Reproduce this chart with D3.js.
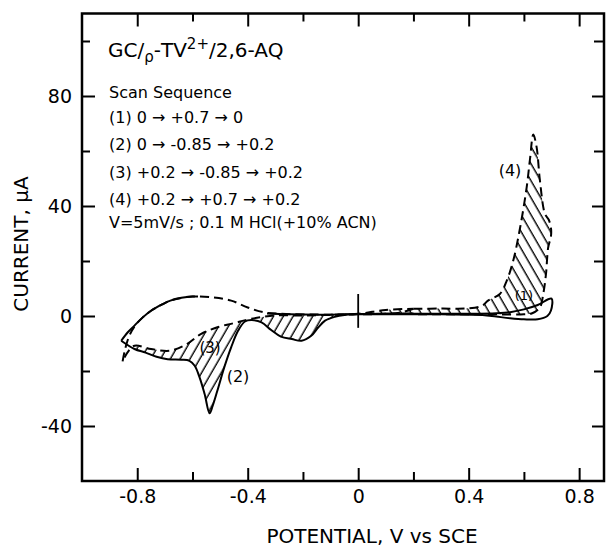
<!DOCTYPE html>
<html>
<head>
<meta charset="utf-8">
<script src="https://cdn.jsdelivr.net/npm/d3@7"></script>
<style>
body { margin: 0; background: #fff; }
text { font-family: "DejaVu Sans", sans-serif; fill: #000; }
</style>
</head>
<body>
<div id="container"></div>
<script>
// define constants
const WIDTH = 607;
const HEIGHT = 549;

// tick values
const X_MAJOR = [-0.8, -0.4, 0, 0.4, 0.8];
const X_MINOR = [-0.6, -0.2, 0.2, 0.6];
const Y_MAJOR = [-40, 0, 40, 80];
const Y_MINOR = [-20, 20, 60, 100];

// [potential V, current uA]
// scan (2) cathodic half, solid: 0 -> -0.85
const scan2Cathodic = [
    [0, 0.7], [-0.05, 0.4], [-0.085, -0.3], [-0.12, -1.7], [-0.145, -4.2], [-0.17, -7.2],
    [-0.205, -9.0], [-0.24, -8.4], [-0.28, -7.5], [-0.315, -5.1], [-0.35, -2.3], [-0.385, -1.5],
    [-0.41, -2.0], [-0.435, -5.4], [-0.46, -11.4], [-0.485, -18.7], [-0.51, -27.2], [-0.527, -32.7],
    [-0.538, -35.4], [-0.556, -28.4], [-0.574, -22.4], [-0.592, -18.1], [-0.611, -16.3],
    [-0.64, -15.9], [-0.69, -15.7], [-0.73, -14.8], [-0.77, -13.3], [-0.81, -12.0], [-0.858, -9.0]
];
// scan (2) anodic half, solid: -0.85 -> +0.2 (null = hidden behind scan 3)
const scan2Anodic = [
    [-0.858, -9.0], [-0.835, -6.0], [-0.81, -3.5], [-0.78, -0.5], [-0.75, 1.9], [-0.71, 4.2],
    [-0.68, 5.6], [-0.64, 6.6], [-0.6, 7.1], [-0.58, 7.1], [-0.45, null],
    [-0.33, 0.9], [-0.25, 0.6], [-0.1, 0.5], [0, 0.7], [0.1, 0.8], [0.2, 0.9]
];
// scan (3) cathodic half, dashed: +0.2 -> -0.85
const scan3Cathodic = [
    [0.2, 2.6], [0.15, 1.2], [0.1, 0.8], [0, 0.6], [-0.1, 0.4], [-0.2, 0.2], [-0.3, 0.2],
    [-0.35, -0.4], [-0.4, -1.3], [-0.45, -2.6], [-0.51, -4.1], [-0.57, -6.6], [-0.62, -10.2],
    [-0.68, -12.6], [-0.75, -12.0], [-0.81, -10.8], [-0.835, -13.2], [-0.853, -16.5]
];
// scan (3) anodic half, dashed: -0.85 -> +0.2
const scan3Anodic = [
    [-0.853, -16.5], [-0.845, -12.5], [-0.83, -7.5], [-0.81, -3.8], [-0.78, -0.5], [-0.75, 1.9],
    [-0.71, 4.2], [-0.68, 5.6], [-0.64, 6.6], [-0.6, 7.1], [-0.53, 6.8], [-0.46, 5.6],
    [-0.4, 3.1], [-0.34, 1.3], [-0.28, 0.8], [-0.1, 0.5], [0, 0.8], [0.1, 2.2], [0.2, 2.6]
];
// scan (1), solid: 0 -> +0.7 -> 0
const scan1 = [
    [0, 0.7], [0.1, 0.8], [0.2, 0.8], [0.3, 0.8], [0.4, 0.8], [0.5, 1.0], [0.55, 1.4],
    [0.6, 2.4], [0.65, 4.0], [0.7, 6.3], [0.698, 2.0], [0.685, 0.0], [0.65, -1.2], [0.6, -1.2],
    [0.55, -0.8], [0.5, -0.2], [0.45, 0.4], [0.3, 0.6], [0.1, 0.6], [0, 0.6]
];
// scan (4), dashed: +0.2 -> +0.7 -> +0.2
const scan4 = [
    [0.2, 2.6], [0.3, 2.7], [0.4, 2.8], [0.45, 3.8], [0.47, 5.6], [0.513, 8.0], [0.538, 12.9],
    [0.561, 20.0], [0.586, 32.0], [0.61, 46.8], [0.622, 57.0], [0.634, 66.0], [0.646, 61.4],
    [0.658, 49.3], [0.676, 37.2], [0.69, 35.0], [0.698, 32.0], [0.698, 29.0], [0.688, 25.0],
    [0.68, 15.3], [0.67, 8.0], [0.658, 3.1], [0.63, 1.0], [0.6, 0.6], [0.5, 0.6], [0.4, 0.6],
    [0.3, 0.6], [0.2, 0.6]
];
// short vertical marker at 0 V (current range)
const zeroMarker = [-4.3, 8];

const scanSequence = [
    "(1) 0 \u2192 +0.7 \u2192 0",
    "(2) 0 \u2192 -0.85 \u2192 +0.2",
    "(3) +0.2 \u2192 -0.85 \u2192 +0.2",
    "(4) +0.2 \u2192 +0.7 \u2192 +0.2"
];

// create svg element
const canvas = d3.select("#container")
    .append("svg")
    .attr("width", WIDTH)
    .attr("height", HEIGHT);

const xScale = d3.scaleLinear()
    .domain([-1.0, 0.89])
    .range([82, 604]);

const yScale = d3.scaleLinear()
    .domain([-60, 110])
    .range([481, 13.5]);

// hatch patterns
const defs = canvas.append("defs");
const hatch = (id, angle) => {
    const p = defs.append("pattern")
        .attr("id", id)
        .attr("width", 8.5)
        .attr("height", 8.5)
        .attr("patternUnits", "userSpaceOnUse")
        .attr("patternTransform", "rotate(" + angle + ")");
    p.append("line")
        .attr("x1", 4).attr("y1", 0)
        .attr("x2", 4).attr("y2", 8.5)
        .attr("stroke", "#000")
        .attr("stroke-width", 1.4);
};
hatch("hatchL", 30);
hatch("hatchR", -30);

const line = d3.line()
    .defined((d) => d[1] != null)
    .x((d) => xScale(d[0]))
    .y((d) => yScale(d[1]))
    .curve(d3.curveCatmullRom.alpha(0.5));

// hatched difference between scan 3 and scan 2 (cathodic)
const inRange = (d) => d[0] >= -0.81 && d[0] <= 0;
const upperL = scan3Cathodic.filter(inRange);
const lowerL = scan2Cathodic.filter(inRange).reverse();
canvas.append("path")
    .attr("d", line(upperL) + line(lowerL).replace(/^M/, "L") + "Z")
    .attr("fill", "url(#hatchL)")
    .attr("stroke", "none");

// hatched loop of scan 4
const loop4 = scan3Anodic.filter((d) => d[0] >= 0 && d[0] < 0.2).concat(scan4);
canvas.append("path")
    .attr("d", line(loop4) + "Z")
    .attr("fill", "url(#hatchR)")
    .attr("stroke", "none");

// curves
const drawCurve = (data, dashed) => {
    canvas.append("path")
        .attr("d", line(data))
        .attr("fill", "none")
        .attr("stroke", "#000")
        .attr("stroke-width", 2)
        .attr("stroke-dasharray", dashed ? "9,5" : null);
};
drawCurve(scan3Cathodic, true);
drawCurve(scan3Anodic, true);
drawCurve(scan4, true);
drawCurve(scan2Cathodic, false);
drawCurve(scan2Anodic, false);
drawCurve(scan1, false);

canvas.append("line")
    .attr("x1", xScale(0)).attr("x2", xScale(0))
    .attr("y1", yScale(zeroMarker[0])).attr("y2", yScale(zeroMarker[1]))
    .attr("stroke", "#000")
    .attr("stroke-width", 1.8);

// axes, ticks pointing inward
const fmtX = (d) => d === 0 ? "0" : d.toFixed(1);
const fmtY = (d) => String(d);
const addAxis = (axis, tx, ty) => {
    const g = canvas.append("g")
        .attr("transform", "translate(" + tx + "," + ty + ")")
        .call(axis);
    g.select(".domain").remove();
    g.selectAll(".tick line").attr("stroke-width", 2);
    g.selectAll("text")
        .style("font-family", "DejaVu Sans")
        .style("font-size", "19px")
        .attr("fill", "#000");
    return g;
};

addAxis(d3.axisBottom(xScale).tickValues(X_MAJOR).tickSize(-13).tickPadding(9).tickFormat(fmtX), 0, 481);
addAxis(d3.axisBottom(xScale).tickValues(X_MINOR).tickSize(-9).tickFormat(""), 0, 481);
addAxis(d3.axisTop(xScale).tickValues(X_MAJOR).tickSize(-13).tickFormat(""), 0, 13.5);
addAxis(d3.axisTop(xScale).tickValues(X_MINOR).tickSize(-8).tickFormat(""), 0, 13.5);
addAxis(d3.axisLeft(yScale).tickValues(Y_MAJOR).tickSize(-13).tickPadding(10).tickFormat(fmtY), 82, 0);
addAxis(d3.axisLeft(yScale).tickValues(Y_MINOR).tickSize(-8).tickFormat(""), 82, 0);
addAxis(d3.axisRight(yScale).tickValues(Y_MAJOR).tickSize(-12).tickFormat(""), 604, 0);
addAxis(d3.axisRight(yScale).tickValues(Y_MINOR).tickSize(-10).tickFormat(""), 604, 0);

// frame
canvas.append("rect")
    .attr("x", 82).attr("y", 13.5)
    .attr("width", 604 - 82).attr("height", 481 - 13.5)
    .attr("fill", "none")
    .attr("stroke", "#000")
    .attr("stroke-width", 2.5);

// label x axis
canvas.append("text")
    .attr("x", 372)
    .attr("y", 543)
    .attr("text-anchor", "middle")
    .style("font-size", "20px")
    .text("POTENTIAL, V vs SCE");

// label y axis
canvas.append("text")
    .attr("transform", "translate(28,244) rotate(-90)")
    .attr("text-anchor", "middle")
    .style("font-size", "20px")
    .text("CURRENT, \u03bcA");

// annotation block
const title = canvas.append("text")
    .attr("x", 108)
    .attr("y", 57)
    .style("font-size", "20px");
title.append("tspan").text("GC/");
title.append("tspan").attr("dy", 5).style("font-size", "15px").text("\u03c1");
title.append("tspan").attr("dy", -5).text("-TV");
title.append("tspan").attr("dy", -8).style("font-size", "15px").text("2+");
title.append("tspan").attr("dy", 8).text("/2,6-AQ");

canvas.append("text")
    .attr("x", 109)
    .attr("y", 98)
    .style("font-size", "16px")
    .text("Scan Sequence");

canvas.selectAll(".seq")
    .data(scanSequence)
    .enter()
    .append("text")
    .attr("class", "seq")
    .attr("x", 109)
    .attr("y", (d, i) => 123 + i * 27.3)
    .style("font-size", "16px")
    .text((d) => d);

canvas.append("text")
    .attr("x", 109)
    .attr("y", 228)
    .style("font-size", "16px")
    .text("V=5mV/s ; 0.1 M HCl(+10% ACN)");

// curve labels
const curveLabel = (txt, px, py, size) => {
    canvas.append("text")
        .attr("x", px).attr("y", py)
        .attr("text-anchor", "middle")
        .style("font-size", size + "px")
        .text(txt);
};
curveLabel("(4)", 510, 176, 16);
curveLabel("(1)", 524, 300, 13);
curveLabel("(3)", 210, 353, 15);
curveLabel("(2)", 238, 382, 16);
</script>
</body>
</html>
